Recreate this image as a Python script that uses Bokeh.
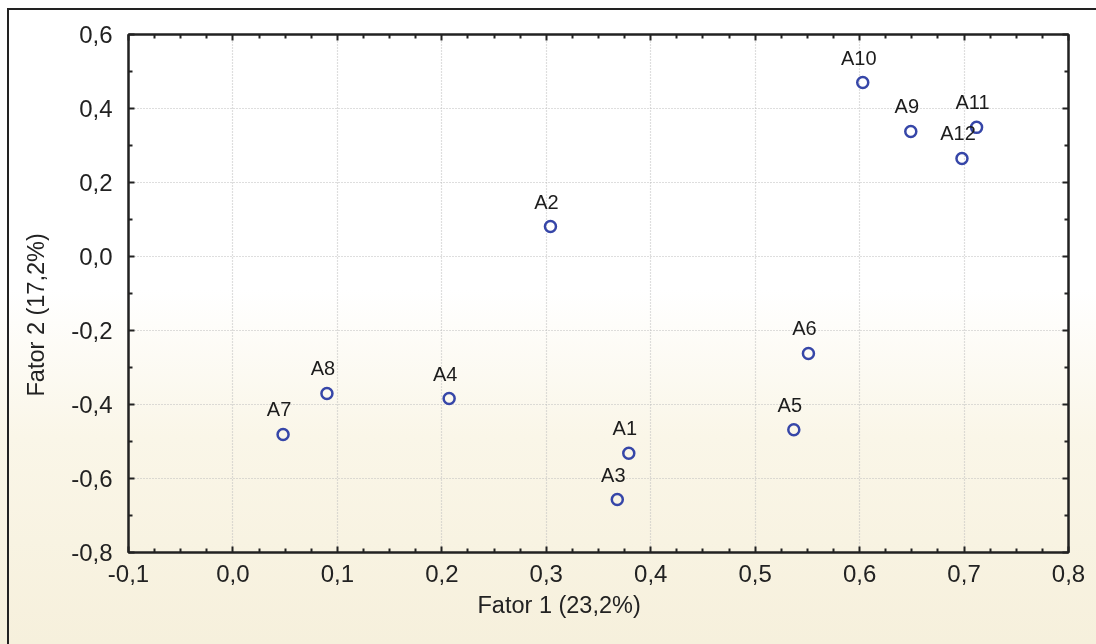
from bokeh.core.properties import value
from bokeh.embed import file_html
from bokeh.models import (ColumnDataSource, CustomJSTickFormatter, FixedTicker,
                          LabelSet, LinearAxis, Range1d, Title)
from bokeh.plotting import figure
from bokeh.resources import INLINE

# Factor loadings of the twelve variables
names = ["A1", "A2", "A3", "A4", "A5", "A6", "A7", "A8", "A9", "A10", "A11", "A12"]
fator1 = [0.379, 0.304, 0.368, 0.207, 0.537, 0.551, 0.048, 0.090, 0.649, 0.603, 0.712, 0.698]
fator2 = [-0.532, 0.081, -0.657, -0.384, -0.468, -0.262, -0.481, -0.370, 0.338, 0.470, 0.349, 0.265]

x_ticks = [-0.1, 0.0, 0.1, 0.2, 0.3, 0.4, 0.5, 0.6, 0.7, 0.8]
y_ticks = [-0.8, -0.6, -0.4, -0.2, 0.0, 0.2, 0.4, 0.6]

x_title = "Fator 1 (23,2%)"
y_title = "Fator 2 (17,2%)"

FONT = "Liberation Sans"
INK = "#222222"


def minor_between(ticks, parts):
    out = []
    for a, b in zip(ticks[:-1], ticks[1:]):
        out += [a + (b - a) * k / parts for k in range(1, parts)]
    return out


source = ColumnDataSource(dict(x=fator1, y=fator2, name=names))

p = figure(
    width=1096, height=644,
    x_range=Range1d(x_ticks[0], x_ticks[-1]), y_range=Range1d(y_ticks[0], y_ticks[-1]),
    output_backend="svg", toolbar_location=None,
    min_border_left=128, min_border_right=28,
    min_border_top=34, min_border_bottom=92,
)
p.background_fill_color = None
p.border_fill_color = None
p.outline_line_color = INK
p.outline_line_width = 2

xticker = FixedTicker(ticks=x_ticks, minor_ticks=minor_between(x_ticks, 4))
yticker = FixedTicker(ticks=y_ticks, minor_ticks=minor_between(y_ticks, 2))
comma_fmt = CustomJSTickFormatter(code="return tick.toFixed(1).replace('.', ',');")
blank_fmt = CustomJSTickFormatter(code="return '';")


def style_axis(ax, ticker, formatter, show_labels):
    ax.ticker = ticker
    ax.formatter = formatter
    ax.axis_line_color = INK
    ax.axis_line_width = 2
    ax.major_tick_line_color = INK
    ax.major_tick_line_width = 2
    ax.major_tick_in = 6
    ax.major_tick_out = 0
    ax.minor_tick_line_color = INK
    ax.minor_tick_line_width = 2
    ax.minor_tick_in = 4
    ax.minor_tick_out = 0
    ax.major_label_text_font = FONT
    ax.major_label_text_color = INK
    ax.major_label_text_font_size = "24px" if show_labels else "0px"


style_axis(p.xaxis[0], xticker, comma_fmt, True)
style_axis(p.yaxis[0], yticker, comma_fmt, True)
p.xaxis[0].major_label_standoff = 12
p.yaxis[0].major_label_standoff = 16

top_axis = LinearAxis()
style_axis(top_axis, xticker, blank_fmt, False)
p.add_layout(top_axis, "above")
right_axis = LinearAxis()
style_axis(right_axis, yticker, blank_fmt, False)
p.add_layout(right_axis, "right")

for g, t in ((p.xgrid[0], xticker), (p.ygrid[0], yticker)):
    g.ticker = t
    g.grid_line_color = "#bdbdbd"
    g.grid_line_dash = "1 2"
    g.grid_line_width = 1.2

p.scatter("x", "y", source=source, size=11, marker="circle",
          fill_color=None, line_color="#3646a8", line_width=2.5)

labels = LabelSet(x="x", y="y", text="name", source=source,
                  x_offset=-4, y_offset=18, text_align="center",
                  text_baseline="alphabetic", text_font=value(FONT),
                  text_font_size="20px", text_color="#1c1c1c")
p.add_layout(labels)

# axis titles
p.add_layout(Title(text=x_title, align="left", offset=349, standoff=11,
                   text_font=FONT, text_font_size="23.5px", text_font_style="normal",
                   text_color=INK), "below")
p.add_layout(Title(text=y_title, align="left", offset=156, standoff=39,
                   text_font=FONT, text_font_size="23.5px", text_font_style="normal",
                   text_color=INK), "left")

html = file_html(p, INLINE)
# page background and the frame lines along the left and top edges of the sheet
page_style = (
    "<style>"
    "html{overflow:hidden;}"
    "html,body{margin:0;background:linear-gradient(to bottom,"
    "#ffffff 0%,#ffffff 45%,#faf6e8 68%,#f6f0dc 100%);}"
    "body::before{content:'';position:fixed;left:7px;top:8px;width:2px;height:700px;"
    "background:#222222;pointer-events:none;}"
    "body::after{content:'';position:fixed;left:7px;top:8px;width:1200px;height:2px;"
    "background:#222222;pointer-events:none;}"
    "</style>"
)
html = html.replace("<head>", "<head>" + page_style, 1)
open("out.html", "w").write(html)
